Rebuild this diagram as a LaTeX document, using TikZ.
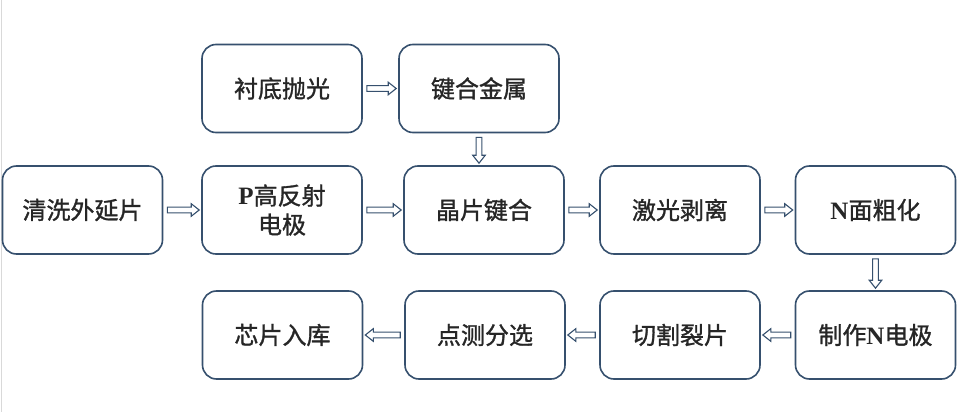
\documentclass[tikz,border=0pt]{standalone}
\usepackage{fontspec}
\setmainfont{Liberation Serif}
\newfontfamily\cjk{Noto Sans CJK SC}[FakeBold=1.2]
\usetikzlibrary{arrows.meta,calc}
\definecolor{boxc}{HTML}{36506E}
\definecolor{txt}{HTML}{262626}
\newcommand{\lat}[1]{{\rmfamily\bfseries\fontsize{25}{29}\selectfont #1}}
\begin{document}
\begin{tikzpicture}[x=1pt,y=-1pt,
  stepbox/.style={draw=boxc, line width=1.6pt, rounded corners=14pt,
    minimum width=160pt, minimum height=88pt, align=center, inner sep=2pt,
    font=\cjk\fontsize{24}{29}\selectfont, text=txt},
  arr/.style={draw=boxc, fill=white, line width=1.1pt, line join=miter,
    to path={let \p1=($(\tikztostart)!4pt!(\tikztotarget)$),
                 \p2=($(\tikztotarget)!2pt!(\tikztostart)$),
                 \p3=($(\p2)!8pt!(\p1)$) in
      ($(\p1)!2.9pt!90:(\p2)$) -- ($(\p3)!2.9pt!90:(\p2)$) -- ($(\p3)!6.3pt!90:(\p2)$)
      -- (\p2) -- ($(\p3)!6.3pt!-90:(\p2)$) -- ($(\p3)!2.9pt!-90:(\p2)$)
      -- ($(\p1)!2.9pt!-90:(\p2)$) -- cycle}}]
\useasboundingbox (0,0) rectangle (959,412);
\fill[white] (0,0) rectangle (959,412);
\draw[black!15, line width=0.8pt] (1,0) -- (1,412);
\node[stepbox] (cd) at (282,88.5) {衬底抛光};
\node[stepbox] (jh) at (479,88.5) {键合金属};
\node[stepbox] (qx) at (82.5,210) {清洗外延片};
\node[stepbox] (pg) at (282,210) {\lat{P}高反射\\电极};
\node[stepbox] (jp) at (484,210) {晶片键合};
\node[stepbox] (jg) at (680,210) {激光剥离};
\node[stepbox] (nm) at (875.5,210) {\lat{N}面粗化};
\node[stepbox] (zz) at (875.5,335) {制作\lat{N}电极};
\node[stepbox] (qg) at (680,335) {切割裂片};
\node[stepbox] (dc) at (485,335) {点测分选};
\node[stepbox] (xp) at (282.5,335) {芯片入库};
\draw[arr] (cd.east) to (jh.west);
\draw[arr] (jh.south) to (jh.south |- jp.north);
\draw[arr] (qx.east) to (pg.west);
\draw[arr] (pg.east) to (jp.west);
\draw[arr] (jp.east) to (jg.west);
\draw[arr] (jg.east) to (nm.west);
\draw[arr] (nm.south) to (zz.north);
\draw[arr] (zz.west) to (qg.east);
\draw[arr] (qg.west) to (dc.east);
\draw[arr] (dc.west) to (xp.east);
\end{tikzpicture}
\end{document}
